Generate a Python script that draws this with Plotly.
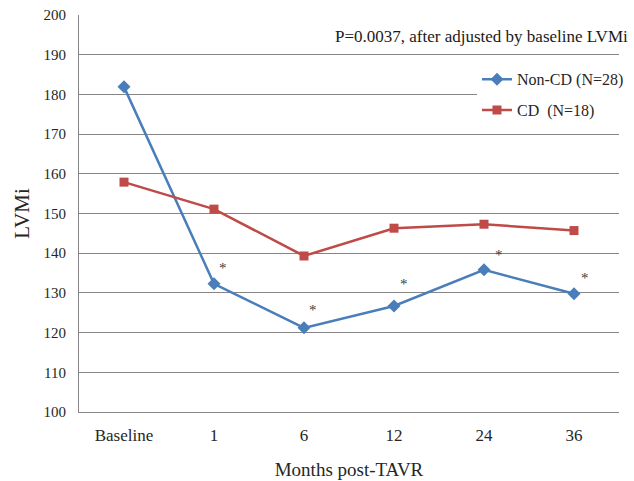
import plotly.graph_objects as go

categories = ["Baseline", "1", "6", "12", "24", "36"]
non_cd = [181.9, 132.3, 121.2, 126.7, 135.8, 129.8]
cd = [157.9, 151.1, 139.3, 146.3, 147.3, 145.7]
sig_marks = ["*", "*", "*", "*", "*"]  # for Non-CD points at 1..36
y_ticks = [100, 110, 120, 130, 140, 150, 160, 170, 180, 190, 200]

BLUE = "#4A7EBB"
RED = "#BE4B48"
FONT = "Liberation Serif, Times New Roman, serif"

fig = go.Figure()
fig.add_trace(go.Scatter(
    x=categories, y=non_cd, name="Non-CD (N=28)", mode="lines+markers",
    legendgroup="a",
    line=dict(color=BLUE, width=2.5),
    marker=dict(symbol="diamond", size=10, color=BLUE),
))
fig.add_trace(go.Scatter(
    x=categories, y=cd, name="CD  (N=18)", mode="lines+markers",
    legendgroup="b",
    line=dict(color=RED, width=2.5),
    marker=dict(symbol="square", size=9, color=RED),
))

shifts = [(9, 16), (9, 18), (10, 22), (15, 15), (11, 16)]
for i, (val, mark, (dx, dy)) in enumerate(zip(non_cd[1:], sig_marks, shifts), start=1):
    fig.add_annotation(x=i, y=val, text=mark, showarrow=False,
                       xshift=dx, yshift=dy,
                       font=dict(family=FONT, size=15, color="#404040"))

fig.add_annotation(xref="paper", yref="paper", x=1.02, y=0.947,
                   xanchor="right", yanchor="middle", showarrow=False,
                   text="P=0.0037, after adjusted by baseline LVMi",
                   font=dict(family=FONT, size=17, color="#1a1a1a"))

fig.update_layout(
    width=634, height=481,
    margin=dict(l=79, r=15, t=15, b=69, autoexpand=False),
    paper_bgcolor="white", plot_bgcolor="white",
    font=dict(family=FONT, color="#262626"),
    showlegend=True,
    legend=dict(x=0.737, y=0.881, xanchor="left", yanchor="top",
                bgcolor="white", font=dict(family=FONT, size=16, color="#262626"),
                itemwidth=30, tracegroupgap=7),
    xaxis=dict(
        type="category", categoryorder="array", categoryarray=categories,
        showline=True, linecolor="#868686", linewidth=1,
        showgrid=False, ticks="", ticklabelstandoff=8,
        tickfont=dict(family=FONT, size=17, color="#262626"),
        title=dict(text="Months post-TAVR", font=dict(family=FONT, size=19, color="#262626"), standoff=18),
        range=[-0.5, 5.5], automargin=False,
    ),
    yaxis=dict(
        range=[100, 200], tickvals=y_ticks,
        showline=True, linecolor="#868686", linewidth=1,
        showgrid=True, gridcolor="#868686", gridwidth=1,
        ticks="", ticklabelstandoff=9,
        tickfont=dict(family=FONT, size=15, color="#262626"),
        title=dict(text="LVMi", font=dict(family=FONT, size=21, color="#262626"), standoff=8),
        zeroline=False, automargin=False,
    ),
)

fig.write_html("out.html", config={"displayModeBar": False},
               post_script="document.body.style.margin='0';")
